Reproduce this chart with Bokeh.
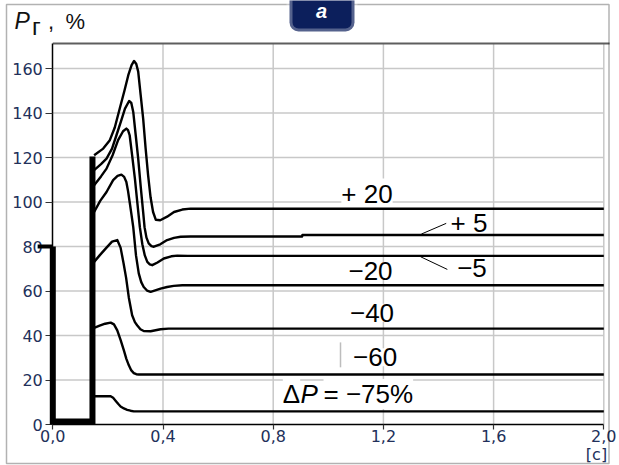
from bokeh.plotting import figure
from bokeh.models import Range1d, FixedTicker, Label, BoxAnnotation
from bokeh.embed import file_html
from bokeh.resources import INLINE

# ---------------- data ----------------
x_ticks = [0.0, 0.4, 0.8, 1.2, 1.6, 2.0]
x_tick_labels = ["0,0", "0,4", "0,8", "1,2", "1,6", "2,0"]
y_ticks = [0, 20, 40, 60, 80, 100, 120, 140, 160]
x_max = 2.0
y_top = 171.2

# input step (thick line)
pulse_t = [0.0, 0.0, 0.144, 0.144]
pulse_v = [80, 1.3, 1.3, 120.5]
stub_t = [-0.055, 0.0]
stub_v = [80, 80]

t_p20 = [0.150, 0.183, 0.207, 0.225, 0.243, 0.260, 0.274, 0.286, 0.295, 0.303, 0.310, 0.319,
         0.328, 0.337, 0.346, 0.355, 0.364, 0.374, 0.390, 0.415, 0.440, 0.470, 0.500, 2.000]
v_p20 = [121, 124, 127.8, 133.5, 142, 150, 157, 161.5, 163.4, 162, 158.6, 148,
         137.5, 124, 112, 102, 95.5, 92, 91.8, 93.4, 95.5, 96.6, 97.0, 97.0]

t_p5 = [0.150, 0.175, 0.195, 0.215, 0.231, 0.248, 0.262, 0.277, 0.285, 0.292, 0.301, 0.310,
        0.319, 0.328, 0.333, 0.340, 0.348, 0.358, 0.367, 0.390, 0.415, 0.440, 0.464, 0.500,
        0.905, 0.906, 2.000]
v_p5 = [114.3, 117, 119.5, 124, 130, 136.5, 142, 145.4, 144.5, 140.5, 130, 119.5,
        107, 95.5, 88.7, 84, 81.4, 80.2, 79.9, 81, 82.9, 83.9, 84.4, 84.5,
        84.5, 85.2, 85.2]

t_m5 = [0.150, 0.175, 0.195, 0.217, 0.237, 0.255, 0.267, 0.273, 0.279, 0.288, 0.298, 0.307,
        0.316, 0.325, 0.334, 0.343, 0.352, 0.361, 0.380, 0.403, 0.430, 0.452, 0.490, 2.000]
v_m5 = [107.5, 111.5, 115, 121, 127.8, 131.8, 133, 132.3, 130, 121, 110.5, 99.5,
        88.7, 81, 76, 73.1, 72, 71.6, 72.8, 74.6, 75.6, 75.9, 75.8, 75.8]

t_m20 = [0.150, 0.172, 0.195, 0.219, 0.235, 0.249, 0.259, 0.267, 0.273, 0.279, 0.286, 0.292,
         0.302, 0.312, 0.321, 0.330, 0.342, 0.355, 0.372, 0.391, 0.415, 0.439, 0.470, 2.000]
v_m20 = [95.5, 100.5, 104.5, 109.8, 111.7, 112.3, 111.3, 109, 105, 100, 94, 88.7,
         76, 67.9, 64, 61.8, 60.2, 59.6, 60.3, 61.1, 61.8, 62.3, 62.6, 62.6]

t_m40 = [0.150, 0.170, 0.195, 0.215, 0.234, 0.246, 0.257, 0.266, 0.276, 0.288, 0.298, 0.306,
         0.318, 0.330, 0.355, 0.391, 0.420, 2.000]
v_m40 = [73.1, 76, 79.5, 82.2, 82.9, 79.5, 72.4, 66, 57, 49.1, 46, 44.6,
         42.8, 42, 41.9, 42.8, 43.1, 43.1]

t_m60 = [0.150, 0.170, 0.190, 0.210, 0.222, 0.234, 0.246, 0.258, 0.267, 0.276, 0.285, 0.294,
         0.303, 0.312, 2.000]
v_m60 = [43.4, 44.4, 45.3, 45.8, 45, 42.3, 38, 33.3, 29.5, 26.6, 24.3, 23.1,
         22.6, 22.5, 22.5]

t_m75 = [0.150, 0.210, 0.219, 0.227, 0.237, 0.246, 0.258, 0.270, 0.282, 0.294, 2.000]
v_m75 = [12.7, 12.7, 12.0, 10.8, 9.3, 8.1, 7.2, 6.6, 6.2, 5.9, 5.9]

curves = [(t_p20, v_p20), (t_p5, v_p5), (t_m5, v_m5), (t_m20, v_m20),
          (t_m40, v_m40), (t_m60, v_m60), (t_m75, v_m75)]

# curve labels (text, t of centre, value at baseline)
lab_text = ["+ 20", "+ 5", "\u22125", "\u221220", "\u221240", "\u221260"]
lab_t = [1.1405, 1.5107, 1.5216, 1.1532, 1.1586, 1.170]
lab_v = [99.7, 86.6, 66.4, 64.9, 46.1, 26.1]

# "ΔP = −75%" pieces (t of left edge, value at baseline)
dp_text = ["\u0394", "P", "= \u221275%"]
dp_t = [0.8349, 0.899, 0.9826]
dp_v = 9.6

# leader lines for "+5" and "-5"
lead_t0 = [1.338, 1.335]
lead_v0 = [85.6, 75.4]
lead_t1 = [1.428, 1.432]
lead_v1 = [90.4, 69.7]

# stray mark near "-60"
mark_t = [1.0443]
mark_v0 = [25.7]
mark_v1 = [36.9]

# ---------------- figure ----------------
W, H = 619, 465
X0_PX, PX_X = 52.3, 275.5      # pixel of t=0, pixels per unit
Y0_PX, PX_Y = 424.0, 2.225     # pixel of v=0, pixels per unit
x_range = Range1d(-X0_PX / PX_X, (W - X0_PX) / PX_X)
y_range = Range1d(-(H - Y0_PX) / PX_Y, Y0_PX / PX_Y)

BASE_FIX = 0.35  # baseline correction (em) for text placement


def vfix(v, size_px):
    return v + BASE_FIX * size_px / PX_Y


def tx(px):
    return (px - X0_PX) / PX_X


def vy(px):
    return (Y0_PX - px) / PX_Y


p = figure(width=W, height=H, output_backend="svg", toolbar_location=None,
           x_range=x_range, y_range=y_range,
           min_border=0, min_border_left=0, min_border_right=0, min_border_top=0, min_border_bottom=0,
           background_fill_color="white", border_fill_color="white")
p.outline_line_color = None
p.grid.visible = False

tick_color = "#22305a"
p.xaxis.ticker = FixedTicker(ticks=x_ticks)
p.xaxis.major_label_overrides = {t: s for t, s in zip(x_ticks, x_tick_labels)}
p.yaxis.ticker = FixedTicker(ticks=y_ticks)
p.xaxis.fixed_location = 0
p.yaxis.fixed_location = 0
p.xaxis.bounds = (0, x_max)
p.yaxis.bounds = (0, y_top)
for ax in (p.xaxis, p.yaxis):
    ax.axis_line_color = "black"
    ax.axis_line_width = 1.5
    ax.major_tick_line_color = "#333333"
    ax.major_tick_line_width = 1.2
    ax.minor_tick_line_color = None
    ax.major_tick_in = 0
    ax.major_label_text_font = "DejaVu Sans"
    ax.major_label_text_font_size = "16px"
    ax.major_label_text_color = tick_color
p.yaxis.major_tick_out = 7
p.yaxis.major_label_standoff = 3
p.xaxis.major_tick_out = 5
p.xaxis.major_label_standoff = 0

# grid lines (at the tick values, inside the plotting area)
gx = x_ticks[1:]
gy = y_ticks[1:]
p.segment(gx, [0] * len(gx), gx, [y_top] * len(gx), line_color="#c8c8c8", line_width=1.5, level="image")
p.segment([0] * len(gy), gy, [x_max] * len(gy), gy, line_color="#c8c8c8", line_width=1.5, level="image")
# top border of the plotting area
p.segment([0], [y_top], [2.021], [y_top], line_color="#5e5e5e", line_width=2, level="image")

# labels with white background (hide grid, drawn under the curves)
lab_font = "Liberation Sans"
LS = 26
for s, t, v in zip(lab_text, lab_t, lab_v):
    p.add_layout(Label(x=t, y=vfix(v, LS), text=s, text_font=lab_font, text_font_size=f"{LS}px",
                       text_color="black", text_align="center", text_baseline="alphabetic",
                       background_fill_color="white"))
for s, t in zip(dp_text, dp_t):
    p.add_layout(Label(x=t, y=vfix(dp_v, LS), text=s, text_font=lab_font, text_font_size=f"{LS}px",
                       text_font_style="italic" if s == "P" else "normal",
                       text_color="black", text_align="left", text_baseline="alphabetic",
                       background_fill_color="white" if s != "P" else None))

# curves
for t, v in curves:
    p.line(t, v, line_color="black", line_width=2.4, line_join="round", level="overlay")

# input step
p.line(pulse_t, pulse_v, line_color="black", line_width=6, line_join="miter", level="overlay")
p.line(stub_t, stub_v, line_color="black", line_width=4, level="overlay")

# leader lines and stray mark
p.segment(lead_t0, lead_v0, lead_t1, lead_v1, line_color="black", line_width=1, level="overlay")
p.segment(mark_t, mark_v0, mark_t, mark_v1, line_color="#bdbdbd", line_width=1.5, level="overlay")

# axis title "Pг , %"
p.add_layout(Label(x=tx(14), y=vfix(vy(28.3), 23), text="P", text_font=lab_font, text_font_size="23px",
                   text_font_style="italic", text_color="#111111", text_baseline="alphabetic"))
p.add_layout(Label(x=tx(31.5), y=vfix(vy(34), 24), text="\u0433", text_font=lab_font, text_font_size="24px",
                   text_color="#111111", text_baseline="alphabetic"))
p.add_layout(Label(x=tx(47.5), y=vfix(vy(29), 22), text=",", text_font=lab_font, text_font_size="22px",
                   text_color="#111111", text_baseline="alphabetic"))
p.add_layout(Label(x=tx(65), y=vfix(vy(28.3), 22), text="%", text_font=lab_font, text_font_size="22px",
                   text_color="#111111", text_baseline="alphabetic"))

# unit "[с]"
p.add_layout(Label(x=tx(596), y=vfix(vy(460), 16), text="[\u0441]", text_font="DejaVu Sans",
                   text_font_size="16px", text_color=tick_color, text_align="center",
                   text_baseline="alphabetic"))

# outer frame and badge
p.add_layout(BoxAnnotation(left=6, right=608.5, top=4, bottom=463,
                           left_units="canvas", right_units="canvas", top_units="canvas", bottom_units="canvas",
                           fill_alpha=0, line_color="black", line_width=1.5, level="overlay"))
p.add_layout(BoxAnnotation(left=289, right=354, top=-14, bottom=31,
                           left_units="canvas", right_units="canvas", top_units="canvas", bottom_units="canvas",
                           fill_color="#0c1f5c", fill_alpha=1, line_color="white", line_width=6,
                           border_radius=9, level="overlay"))
p.add_layout(Label(x=tx(321), y=vfix(vy(17), 20), text="a", text_font=lab_font, text_font_size="20px",
                   text_font_style="bold italic", text_color="white", text_align="center",
                   text_baseline="alphabetic", level="overlay"))

open("out.html", "w").write(file_html(p, INLINE))
